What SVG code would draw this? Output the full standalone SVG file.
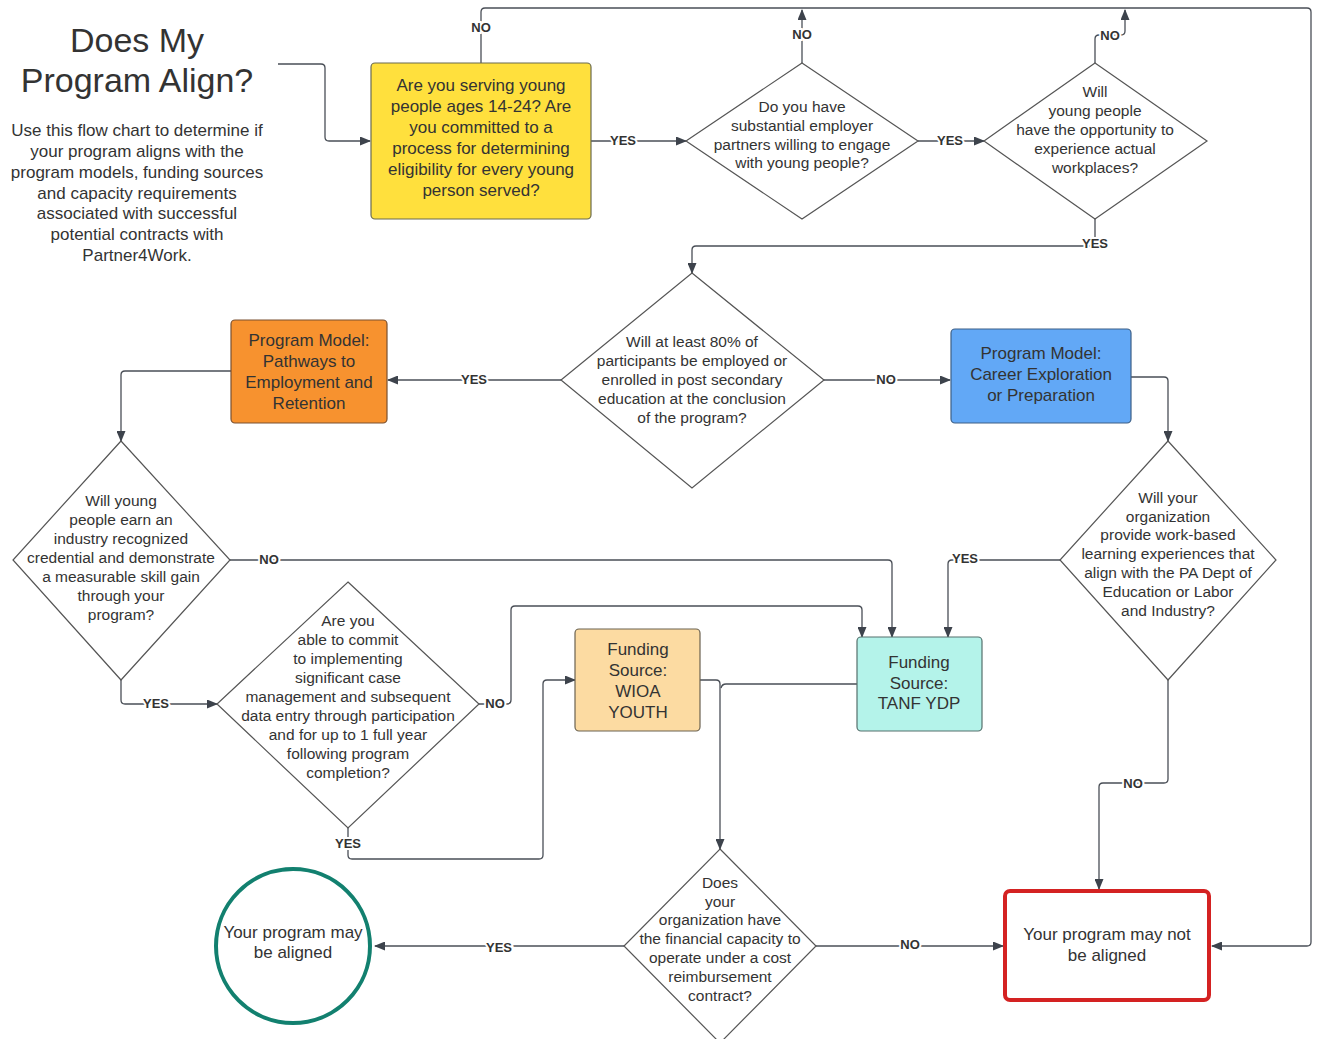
<svg xmlns="http://www.w3.org/2000/svg" width="1318" height="1039" viewBox="0 0 1318 1039">
<style>
.t{font-family:"Liberation Sans",Arial,sans-serif;fill:#333;text-anchor:middle}
.box{font-size:17px}
.dia{font-size:15.5px}
.lbl{font-family:"Liberation Sans",Arial,sans-serif;font-size:13px;font-weight:bold;fill:#333;text-anchor:middle;dominant-baseline:central;stroke:#fff;stroke-width:4px;paint-order:stroke}
.ln{fill:none;stroke:#4a4f57;stroke-width:1.3}
.d{fill:#fff;stroke:#555;stroke-width:1.2}
</style>
<defs>
<marker id="ah" markerUnits="userSpaceOnUse" markerWidth="11" markerHeight="9" refX="10" refY="4.5" orient="auto">
<path d="M0,0 L11,4.5 L0,9 z" fill="#3d434c"/>
</marker>
</defs>
<rect width="1318" height="1039" fill="#fff"/>

<g id="title">
<text class="t" x="137" y="52" font-size="34">Does My</text>
<text class="t" x="137" y="92" font-size="34">Program Align?</text>
<text class="t" x="137" font-size="17"><tspan x="137" y="136">Use this flow chart to determine if</tspan><tspan x="137" y="157">your program aligns with the</tspan><tspan x="137" y="178">program models, funding sources</tspan><tspan x="137" y="199">and capacity requirements</tspan><tspan x="137" y="219">associated with successful</tspan><tspan x="137" y="240">potential contracts with</tspan><tspan x="137" y="261">Partner4Work.</tspan></text>
</g>

<g id="connectors">
<path class="ln" d="M278,64 H321 Q325,64 325,68 V137 Q325,141 329,141 H370" marker-end="url(#ah)"/>
<path class="ln" d="M481,63 V12 Q481,8 485,8 H1307 Q1311,8 1311,12 V942 Q1311,946 1307,946 H1212" marker-end="url(#ah)"/>
<path class="ln" d="M591,141 H686" marker-end="url(#ah)"/>
<path class="ln" d="M802,63 V10" marker-end="url(#ah)"/>
<path class="ln" d="M918,141 H984" marker-end="url(#ah)"/>
<path class="ln" d="M1095,63 V39 Q1095,35 1099,35 H1121 Q1125,35 1125,31 V10" marker-end="url(#ah)"/>
<path class="ln" d="M1095,219 V246 H696 Q692,246 692,250 V273" marker-end="url(#ah)"/>
<path class="ln" d="M561,380 H388" marker-end="url(#ah)"/>
<path class="ln" d="M824,380 H950" marker-end="url(#ah)"/>
<path class="ln" d="M231,371 H125 Q121,371 121,375 V441" marker-end="url(#ah)"/>
<path class="ln" d="M1131,377 H1164 Q1168,377 1168,381 V441" marker-end="url(#ah)"/>
<path class="ln" d="M230,560 H888 Q892,560 892,564 V637" marker-end="url(#ah)"/>
<path class="ln" d="M121,680 V700 Q121,704 125,704 H217" marker-end="url(#ah)"/>
<path class="ln" d="M479,704 H507 Q511,704 511,700 V610 Q511,606 515,606 H858 Q862,606 862,610 V637" marker-end="url(#ah)"/>
<path class="ln" d="M348,828 V855 Q348,859 352,859 H539 Q543,859 543,855 V684 Q543,680 547,680 H575" marker-end="url(#ah)"/>
<path class="ln" d="M1060,560 H952 Q948,560 948,564 V637" marker-end="url(#ah)"/>
<path class="ln" d="M1168,680 V779 Q1168,783 1164,783 H1103 Q1099,783 1099,787 V889" marker-end="url(#ah)"/>
<path class="ln" d="M700,680 H716 Q720,680 720,684 V849" marker-end="url(#ah)"/>
<path class="ln" d="M857,684 H726 Q722,684 721,688"/>
<path class="ln" d="M624,946 H375" marker-end="url(#ah)"/>
<path class="ln" d="M816,946 H1003" marker-end="url(#ah)"/>
<text class="lbl" x="481" y="27">NO</text>
<text class="lbl" x="623" y="140">YES</text>
<text class="lbl" x="802" y="34">NO</text>
<text class="lbl" x="950" y="140">YES</text>
<text class="lbl" x="1110" y="35">NO</text>
<text class="lbl" x="1095" y="243">YES</text>
<text class="lbl" x="474" y="379">YES</text>
<text class="lbl" x="886" y="379">NO</text>
<text class="lbl" x="269" y="559">NO</text>
<text class="lbl" x="156" y="703">YES</text>
<text class="lbl" x="495" y="703">NO</text>
<text class="lbl" x="348" y="843">YES</text>
<text class="lbl" x="965" y="558">YES</text>
<text class="lbl" x="1133" y="783">NO</text>
<text class="lbl" x="499" y="947">YES</text>
<text class="lbl" x="910" y="944">NO</text>
</g>

<g id="n-serving">
<rect x="371" y="63" width="220" height="156" rx="4" fill="#FFE03D" stroke="#6b6b50" stroke-width="1.2"/>
<text class="t box"><tspan x="481" y="91">Are you serving young</tspan><tspan x="481" y="112">people ages 14-24? Are</tspan><tspan x="481" y="133">you committed to a</tspan><tspan x="481" y="154">process for determining</tspan><tspan x="481" y="175">eligibility for every young</tspan><tspan x="481" y="196">person served?</tspan></text>
</g>

<g id="n-employer">
<polygon class="d" points="802,63 918,141 802,219 686,141"/>
<text class="t dia"><tspan x="802" y="112">Do you have</tspan><tspan x="802" y="131">substantial employer</tspan><tspan x="802" y="150">partners willing to engage</tspan><tspan x="802" y="168">with young people?</tspan></text>
</g>

<g id="n-workplaces">
<polygon class="d" points="1095,63 1207,141 1095,219 984,141"/>
<text class="t dia"><tspan x="1095" y="97">Will</tspan><tspan x="1095" y="116">young people</tspan><tspan x="1095" y="135">have the opportunity to</tspan><tspan x="1095" y="154">experience actual</tspan><tspan x="1095" y="173">workplaces?</tspan></text>
</g>

<g id="n-80pct">
<polygon class="d" points="692,273 824,380 692,488 561,380"/>
<text class="t dia"><tspan x="692" y="347">Will at least 80% of</tspan><tspan x="692" y="366">participants be employed or</tspan><tspan x="692" y="385">enrolled in post secondary</tspan><tspan x="692" y="404">education at the conclusion</tspan><tspan x="692" y="423">of the program?</tspan></text>
</g>

<g id="n-pathways">
<rect x="231" y="320" width="156" height="103" rx="4" fill="#F7922F" stroke="#7a5030" stroke-width="1.2"/>
<text class="t box"><tspan x="309" y="346">Program Model:</tspan><tspan x="309" y="367">Pathways to</tspan><tspan x="309" y="388">Employment and</tspan><tspan x="309" y="409">Retention</tspan></text>
</g>

<g id="n-career">
<rect x="951" y="329" width="180" height="94" rx="4" fill="#62A8F6" stroke="#3d5f86" stroke-width="1.2"/>
<text class="t box"><tspan x="1041" y="359">Program Model:</tspan><tspan x="1041" y="380">Career Exploration</tspan><tspan x="1041" y="401">or Preparation</tspan></text>
</g>

<g id="n-credential">
<polygon class="d" points="121,441 230,560 121,680 13,560"/>
<text class="t dia"><tspan x="121" y="506">Will young</tspan><tspan x="121" y="525">people earn an</tspan><tspan x="121" y="544">industry recognized</tspan><tspan x="121" y="563">credential and demonstrate</tspan><tspan x="121" y="582">a measurable skill gain</tspan><tspan x="121" y="601">through your</tspan><tspan x="121" y="620">program?</tspan></text>
</g>

<g id="n-workbased">
<polygon class="d" points="1168,441 1276,560 1168,680 1060,560"/>
<text class="t dia"><tspan x="1168" y="503">Will your</tspan><tspan x="1168" y="522">organization</tspan><tspan x="1168" y="540">provide work-based</tspan><tspan x="1168" y="559">learning experiences that</tspan><tspan x="1168" y="578">align with the PA Dept of</tspan><tspan x="1168" y="597">Education or Labor</tspan><tspan x="1168" y="616">and Industry?</tspan></text>
</g>

<g id="n-casemgmt">
<polygon class="d" points="348,582 479,704 348,828 217,704"/>
<text class="t dia"><tspan x="348" y="626">Are you</tspan><tspan x="348" y="645">able to commit</tspan><tspan x="348" y="664">to implementing</tspan><tspan x="348" y="683">significant case</tspan><tspan x="348" y="702">management and subsequent</tspan><tspan x="348" y="721">data entry through participation</tspan><tspan x="348" y="740">and for up to 1 full year</tspan><tspan x="348" y="759">following program</tspan><tspan x="348" y="778">completion?</tspan></text>
</g>

<g id="n-wioa">
<rect x="575" y="629" width="125" height="102" rx="4" fill="#FCDBA2" stroke="#6b6250" stroke-width="1.2"/>
<text class="t box"><tspan x="638" y="655">Funding</tspan><tspan x="638" y="676">Source:</tspan><tspan x="638" y="697">WIOA</tspan><tspan x="638" y="718">YOUTH</tspan></text>
</g>

<g id="n-tanf">
<rect x="857" y="637" width="125" height="94" rx="4" fill="#B4F3EA" stroke="#55706c" stroke-width="1.2"/>
<text class="t box"><tspan x="919" y="668">Funding</tspan><tspan x="919" y="689">Source:</tspan><tspan x="919" y="709">TANF YDP</tspan></text>
</g>

<g id="n-financial">
<polygon class="d" points="720,849 816,946 720,1043 624,946"/>
<text class="t dia"><tspan x="720" y="888">Does</tspan><tspan x="720" y="907">your</tspan><tspan x="720" y="925">organization have</tspan><tspan x="720" y="944">the financial capacity to</tspan><tspan x="720" y="963">operate under a cost</tspan><tspan x="720" y="982">reimbursement</tspan><tspan x="720" y="1001">contract?</tspan></text>
</g>

<g id="n-aligned">
<circle cx="293" cy="946" r="77" fill="#fff" stroke="#12806F" stroke-width="4"/>
<text class="t box"><tspan x="293" y="938">Your program may</tspan><tspan x="293" y="958">be aligned</tspan></text>
</g>

<g id="n-notaligned">
<rect x="1005" y="891" width="204" height="109" rx="5" fill="#fff" stroke="#D42222" stroke-width="4"/>
<text class="t box"><tspan x="1107" y="940">Your program may not</tspan><tspan x="1107" y="961">be aligned</tspan></text>
</g>
</svg>
